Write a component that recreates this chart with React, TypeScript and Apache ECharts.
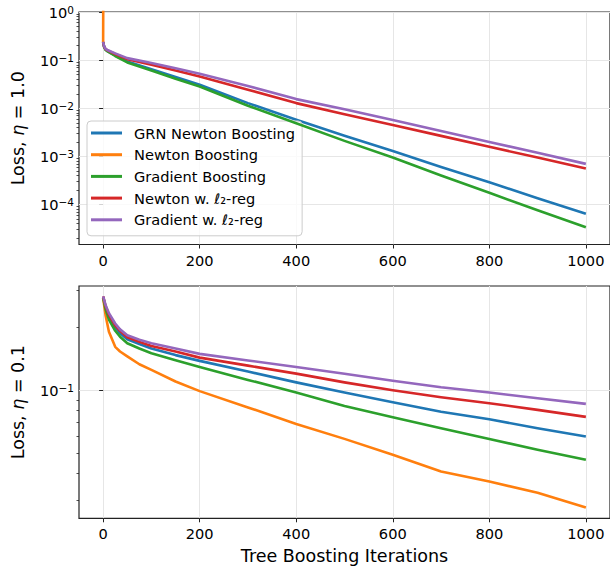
import React, { useEffect, useRef } from "react";
import * as echarts from "echarts";

const FONT = "DejaVu Sans";

const seriesNames = [
  "GRN Newton Boosting",
  "Newton Boosting",
  "Gradient Boosting",
  "Newton w. ℓ₂-reg",
  "Gradient w. ℓ₂-reg",
];
const colors = ["#1f77b4", "#ff7f0e", "#2ca02c", "#d62728", "#9467bd"];

// Top panel (eta = 1.0)
const topIters = [0, 2, 5, 10, 25, 50, 100, 150, 200, 300, 400, 500, 600, 700, 800, 900, 1000];
const topGRN = [0.235, 0.19, 0.166, 0.152, 0.125, 0.094, 0.065, 0.0445, 0.0308, 0.0128, 0.00577, 0.0027, 0.0013, 0.0006, 0.00029, 0.000135, 0.0000645];
const topNewtonIters = [0, 1, 1000];
const topNewton = [0.235, 1000, 1000];
const topGradient = [0.235, 0.188, 0.163, 0.15, 0.122, 0.0896, 0.061, 0.041, 0.0284, 0.0113, 0.0049, 0.0021, 0.00095, 0.0004, 0.000175, 0.000076, 0.0000339];
const topNewtonL2 = [0.237, 0.192, 0.17, 0.158, 0.134, 0.105, 0.08, 0.061, 0.0458, 0.0243, 0.0128, 0.0075, 0.0045, 0.00267, 0.00158, 0.00095, 0.00056];
const topGradientL2 = [0.24, 0.195, 0.172, 0.16, 0.138, 0.11, 0.087, 0.068, 0.052, 0.029, 0.0155, 0.0095, 0.0057, 0.00336, 0.002, 0.00119, 0.0007];

// Bottom panel (eta = 0.1)
const botIters = [0, 5, 12, 25, 35, 50, 75, 100, 150, 200, 300, 400, 500, 600, 700, 800, 900, 1000];
const botGRN = [0.278, 0.25, 0.226, 0.2, 0.187, 0.175, 0.166, 0.158, 0.147, 0.138, 0.1227, 0.109, 0.0975, 0.0877, 0.079, 0.0727, 0.0659, 0.0601];
const botNewton = [0.276, 0.228, 0.19, 0.161, 0.153, 0.145, 0.133, 0.125, 0.11, 0.099, 0.0828, 0.069, 0.0586, 0.0492, 0.041, 0.0367, 0.0324, 0.0276];
const botGradient = [0.276, 0.243, 0.217, 0.192, 0.18, 0.1675, 0.158, 0.15, 0.139, 0.129, 0.112, 0.0975, 0.084, 0.0743, 0.0659, 0.0585, 0.052, 0.0466];
const botNewtonL2 = [0.28, 0.252, 0.229, 0.204, 0.192, 0.179, 0.17, 0.1625, 0.153, 0.143, 0.131, 0.12, 0.109, 0.1, 0.0926, 0.0867, 0.0806, 0.0746];
const botGradientL2 = [0.28, 0.255, 0.233, 0.208, 0.195, 0.183, 0.174, 0.1675, 0.158, 0.149, 0.1387, 0.129, 0.1197, 0.111, 0.1033, 0.0975, 0.0916, 0.0861];

const xTicks = [0, 200, 400, 600, 800, 1000];
const topMajor = [1e-4, 1e-3, 1e-2, 1e-1, 1];
const topMinor = [2e-5, 3e-5, 4e-5, 5e-5, 6e-5, 7e-5, 8e-5, 9e-5,
  2e-4, 3e-4, 4e-4, 5e-4, 6e-4, 7e-4, 8e-4, 9e-4,
  2e-3, 3e-3, 4e-3, 5e-3, 6e-3, 7e-3, 8e-3, 9e-3,
  2e-2, 3e-2, 4e-2, 5e-2, 6e-2, 7e-2, 8e-2, 9e-2,
  0.2, 0.3, 0.4, 0.5, 0.6, 0.7, 0.8, 0.9];
const botMajor = [0.1];
const botMinor = [0.03, 0.04, 0.05, 0.06, 0.07, 0.08, 0.09, 0.2, 0.3];

const topRange = [Math.pow(10, -4.83), 1];
const botRange = [0.0245, 0.314];

const pairs = (xs: number[], ys: number[]) => xs.map((x, i) => [x, ys[i]]);

const supLabel = (v: number) => {
  const e = v > 0 ? Math.round(Math.log10(v)) : Math.round(v);
  const s = e < 0 ? "\u2212" + String(-e) : String(e);
  return "{b|10}{s|" + s + "}";
};

const labelRich = {
  b: { fontSize: 14.6, fontFamily: FONT, color: "#000", lineHeight: 16 },
  s: { fontSize: 10.5, fontFamily: FONT, color: "#000", lineHeight: 10, verticalAlign: "top" },
};

export default function App() {
  const ref = useRef<HTMLDivElement>(null);
  useEffect(() => {
    if (!ref.current) return;
    const chart = echarts.init(ref.current, undefined, { renderer: "svg" });

    const gridBorder = { show: true, borderColor: "#222", borderWidth: 1.2, backgroundColor: "transparent" };
    const splitLine = { show: true, lineStyle: { color: "#e6e6e6", width: 1 } };
    const tickStyle = { lineStyle: { color: "#222", width: 1 } };

    const mkX = (gi: number, extra: any) => ({
      type: "value",
      gridIndex: gi,
      min: -50,
      max: 1050,
      axisLine: { show: false },
      axisTick: { show: true, customValues: xTicks, length: 4, ...tickStyle },
      axisLabel: {
        customValues: xTicks,
        formatter: (v: number) => String(Math.round(v)),
        fontSize: 14.6,
        fontFamily: FONT,
        color: "#000",
        margin: 8,
      },
      splitLine,
      ...extra,
    });

    const mkYMajor = (gi: number, range: number[], major: number[], name: string) => ({
      type: "log",
      logBase: 10,
      gridIndex: gi,
      min: range[0],
      max: range[1],
      position: "left",
      axisLine: { show: false },
      axisTick: { show: true, customValues: major, length: 4, ...tickStyle },
      axisLabel: {
        customValues: major,
        formatter: supLabel,
        margin: 5,
        rich: labelRich,
      },
      splitLine,
      name,
      nameLocation: "middle",
      nameGap: 52,
      nameRotate: 90,
      nameTextStyle: {
        fontSize: 17.5,
        fontFamily: FONT,
        color: "#000",
        rich: { i: { fontSize: 17.5, fontFamily: FONT, fontStyle: "italic", color: "#000" } },
      },
    });

    const mkYMinor = (gi: number, range: number[], minor: number[]) => ({
      type: "log",
      logBase: 10,
      gridIndex: gi,
      min: range[0],
      max: range[1],
      position: "left",
      offset: 0,
      axisLine: { show: false },
      axisTick: { show: true, customValues: minor, length: 2.5, lineStyle: { color: "#222", width: 0.8 } },
      axisLabel: { show: false },
      splitLine: { show: false },
    });

    const topData = [
      pairs(topIters, topGRN),
      pairs(topNewtonIters, topNewton),
      pairs(topIters, topGradient),
      pairs(topIters, topNewtonL2),
      pairs(topIters, topGradientL2),
    ];
    const botData = [
      pairs(botIters, botGRN),
      pairs(botIters, botNewton),
      pairs(botIters, botGradient),
      pairs(botIters, botNewtonL2),
      pairs(botIters, botGradientL2),
    ];

    const mkSeries = (data: number[][][], gi: number, yi: number) =>
      data.map((d, i) => ({
        type: "line",
        name: seriesNames[i],
        xAxisIndex: gi,
        yAxisIndex: yi,
        data: d,
        showSymbol: false,
        symbol: "none",
        clip: true,
        color: colors[i],
        lineStyle: { width: 2.6, color: colors[i], join: "round" },
        z: 2 + i,
      }));

    chart.setOption({
      animation: false,
      backgroundColor: "#fff",
      textStyle: { fontFamily: FONT },
      grid: [
        { left: 79, right: -3, top: 12, height: 232.5, ...gridBorder },
        { left: 79, right: -3, top: 286, height: 232.3, ...gridBorder },
      ],
      xAxis: [
        mkX(0, {}),
        mkX(1, {
          name: "Tree Boosting Iterations",
          nameLocation: "middle",
          nameGap: 29,
          nameTextStyle: { fontSize: 17.5, fontFamily: FONT, color: "#000" },
        }),
      ],
      yAxis: [
        mkYMajor(0, topRange, topMajor, "Loss, {i|η} = 1.0"),
        mkYMinor(0, topRange, topMinor),
        mkYMajor(1, botRange, botMajor, "Loss, {i|η} = 0.1"),
        mkYMinor(1, botRange, botMinor),
      ],
      legend: {
        data: seriesNames,
        orient: "vertical",
        left: 87,
        top: 121,
        icon: "rect",
        itemWidth: 31,
        itemHeight: 3,
        itemGap: 5.7,
        padding: [4, 7, 8, 4],
        backgroundColor: "rgba(255,255,255,0.8)",
        borderColor: "#cccccc",
        borderWidth: 1,
        borderRadius: 4,
        textStyle: { fontSize: 14.6, fontFamily: FONT, color: "#000", lineHeight: 16, padding: [0, 0, 0, 7] },
      },
      series: [...mkSeries(topData, 0, 0), ...mkSeries(botData, 1, 2)],
    });

    return () => chart.dispose();
  }, []);
  return <div ref={ref} style={{ position: "fixed", left: 0, top: 0, width: 610, height: 570 }} />;
}
